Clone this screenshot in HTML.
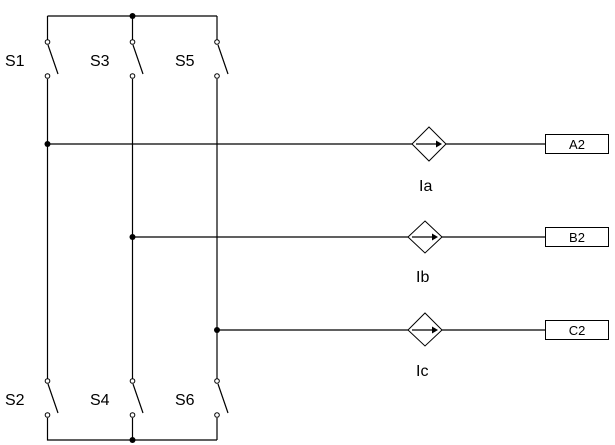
<!DOCTYPE html>
<html><head><style>body{margin:0;background:#fff}svg{display:block}text{font-family:"Liberation Sans",sans-serif;fill:#000}</style></head><body>
<svg width="615" height="445" viewBox="0 0 615 445" xmlns="http://www.w3.org/2000/svg">
<g stroke="#000" stroke-width="1.2" fill="none">
<path d="M47.5 16H217M47.5 16V40M132.5 16V40M217 16V40"/>
<path d="M47.5 79V380M132.5 79V380M217 79V380"/>
<path d="M47.5 418V440H217M132.5 418V440M217 418V440"/>
<path d="M48 45L58 74M133 45L143 74M218 45L228 74"/>
<path d="M48 384L58 413M133 384L143 413M218 384L228 413"/>
<path d="M47.5 144H545M132.5 237H545M217 330H545"/>
</g>
<g stroke="#000" stroke-width="1" fill="#fff">
<circle cx="47.5" cy="42" r="2.3"/><circle cx="132.5" cy="42" r="2.3"/><circle cx="217" cy="42" r="2.3"/>
<circle cx="47.5" cy="76" r="2.3"/><circle cx="132.5" cy="76" r="2.3"/><circle cx="217" cy="76" r="2.3"/>
<circle cx="47.5" cy="381" r="2.3"/><circle cx="132.5" cy="381" r="2.3"/><circle cx="217" cy="381" r="2.3"/>
<circle cx="47.5" cy="415" r="2.3"/><circle cx="132.5" cy="415" r="2.3"/><circle cx="217" cy="415" r="2.3"/>
<path d="M429 127L446 144L429 161L412 144Z"/>
<path d="M425 221L442 237L425 253L408 237Z"/>
<path d="M425 313L442 330L425 346L408 330Z"/>
<rect x="545.5" y="134.5" width="63" height="19"/>
<rect x="545.5" y="227.5" width="63" height="19"/>
<rect x="545.5" y="320.5" width="63" height="19"/>
</g>
<g stroke="#000" stroke-width="1.2"><path d="M416 144H436M412 237H432M412 330H432"/></g>
<g fill="#000">
<path d="M436 140.5L442 144L436 147.5Z"/><path d="M432 233.5L438 237L432 240.5Z"/><path d="M432 326.5L438 330L432 333.5Z"/>
<circle cx="132.5" cy="16" r="3"/><circle cx="47.5" cy="144" r="3"/><circle cx="132.5" cy="237" r="3"/><circle cx="217" cy="330" r="3"/><circle cx="132.5" cy="440" r="3"/>
</g>
<g font-size="16">
<text x="5" y="66">S1</text><text x="90" y="66">S3</text><text x="175" y="66">S5</text>
<text x="5" y="405">S2</text><text x="90" y="405">S4</text><text x="175" y="405">S6</text>
<text x="419" y="191">Ia</text><text x="416" y="282">Ib</text><text x="416" y="376">Ic</text>
</g>
<g font-size="13" text-anchor="middle">
<text x="577" y="149">A2</text><text x="577" y="242">B2</text><text x="577" y="335">C2</text>
</g>
</svg>
</body></html>
